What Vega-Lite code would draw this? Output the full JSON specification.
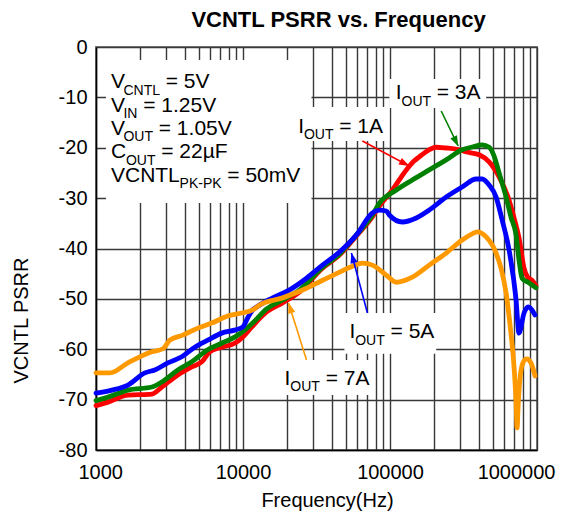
{
  "$schema": "https://vega.github.io/schema/vega-lite/v6.json",
  "width": 441,
  "height": 403,
  "autosize": {"type": "none"},
  "padding": {"left": 96, "top": 47, "right": 28, "bottom": 69},
  "background": "white",
  "title": {"text": "VCNTL PSRR vs. Frequency", "font": "Liberation Sans", "fontSize": 22, "fontWeight": "bold", "color": "black", "anchor": "middle", "frame": "group", "dx": 22, "offset": 5},
  "config": {
    "font": "Liberation Sans",
    "view": {"stroke": "#808080", "strokeWidth": 2}
  },
  "datasets": {
    "curves": [
      {"s":"1A","f":1000,"d":-71.2},{"s":"1A","f":1206,"d":-70.5},{"s":"1A","f":1649,"d":-69.1},{"s":"1A","f":2400,"d":-68.9},{"s":"1A","f":2805,"d":-67.5},{"s":"1A","f":3603,"d":-65.1},{"s":"1A","f":4483,"d":-63.5},{"s":"1A","f":5243,"d":-62.5},{"s":"1A","f":5939,"d":-60.5},{"s":"1A","f":7165,"d":-59.6},{"s":"1A","f":8779,"d":-58.8},{"s":"1A","f":9948,"d":-57.6},{"s":"1A","f":11452,"d":-55.6},{"s":"1A","f":14478,"d":-52.6},{"s":"1A","f":18590,"d":-50.8},{"s":"1A","f":24250,"d":-48.6},{"s":"1A","f":34740,"d":-43.9},{"s":"1A","f":45330,"d":-41.3},{"s":"1A","f":59100,"d":-37.5},{"s":"1A","f":75900,"d":-33.7},{"s":"1A","f":84650,"d":-31.6},{"s":"1A","f":103700,"d":-28.4},{"s":"1A","f":129100,"d":-24.4},{"s":"1A","f":146300,"d":-22.6},{"s":"1A","f":158200,"d":-21.8},{"s":"1A","f":182100,"d":-20.5},{"s":"1A","f":206300,"d":-19.9},{"s":"1A","f":241300,"d":-20.05},{"s":"1A","f":291000,"d":-20.35},{"s":"1A","f":340000,"d":-20.9},{"s":"1A","f":404200,"d":-21.4},{"s":"1A","f":472400,"d":-22.8},{"s":"1A","f":552300,"d":-25.8},{"s":"1A","f":645700,"d":-30.4},{"s":"1A","f":698200,"d":-33.9},{"s":"1A","f":754800,"d":-37.9},{"s":"1A","f":816300,"d":-43.9},{"s":"1A","f":860000,"d":-45.6},{"s":"1A","f":925000,"d":-46.3},{"s":"1A","f":984500,"d":-47.4},
      {"s":"3A","f":1000,"d":-70.2},{"s":"3A","f":1206,"d":-69.5},{"s":"3A","f":1649,"d":-68.1},{"s":"3A","f":2400,"d":-67.5},{"s":"3A","f":2805,"d":-66.5},{"s":"3A","f":3603,"d":-64.1},{"s":"3A","f":4483,"d":-62.5},{"s":"3A","f":5757,"d":-60.1},{"s":"3A","f":7165,"d":-58.8},{"s":"3A","f":8779,"d":-57.6},{"s":"3A","f":10264,"d":-56.2},{"s":"3A","f":11634,"d":-54.8},{"s":"3A","f":14478,"d":-52.0},{"s":"3A","f":18590,"d":-50.2},{"s":"3A","f":24250,"d":-48.2},{"s":"3A","f":34740,"d":-43.7},{"s":"3A","f":45330,"d":-41.1},{"s":"3A","f":59100,"d":-37.3},{"s":"3A","f":75900,"d":-33.35},{"s":"3A","f":84650,"d":-31.0},{"s":"3A","f":110400,"d":-28.4},{"s":"3A","f":141800,"d":-26.4},{"s":"3A","f":184900,"d":-24.4},{"s":"3A","f":241300,"d":-22.4},{"s":"3A","f":309700,"d":-20.4},{"s":"3A","f":362200,"d":-19.85},{"s":"3A","f":423500,"d":-19.45},{"s":"3A","f":472400,"d":-19.9},{"s":"3A","f":510000,"d":-21.6},{"s":"3A","f":552300,"d":-25.0},{"s":"3A","f":616200,"d":-29.8},{"s":"3A","f":666000,"d":-33.8},{"s":"3A","f":720300,"d":-37.3},{"s":"3A","f":754800,"d":-42.3},{"s":"3A","f":791200,"d":-45.9},{"s":"3A","f":880000,"d":-46.8},{"s":"3A","f":984500,"d":-47.8},
      {"s":"5A","f":1000,"d":-68.7},{"s":"5A","f":1284,"d":-68.1},{"s":"5A","f":1649,"d":-67.1},{"s":"5A","f":2150,"d":-64.7},{"s":"5A","f":2515,"d":-64.1},{"s":"5A","f":3082,"d":-62.7},{"s":"5A","f":3835,"d":-61.5},{"s":"5A","f":4699,"d":-59.6},{"s":"5A","f":5757,"d":-58.2},{"s":"5A","f":7165,"d":-56.8},{"s":"5A","f":8779,"d":-56.2},{"s":"5A","f":9948,"d":-55.6},{"s":"5A","f":10757,"d":-53.8},{"s":"5A","f":11634,"d":-52.2},{"s":"5A","f":12382,"d":-51.6},{"s":"5A","f":15904,"d":-49.8},{"s":"5A","f":20740,"d":-48.2},{"s":"5A","f":27050,"d":-45.9},{"s":"5A","f":34740,"d":-43.3},{"s":"5A","f":45330,"d":-40.7},{"s":"5A","f":59100,"d":-37.3},{"s":"5A","f":75900,"d":-32.95},{"s":"5A","f":84650,"d":-32.4},{"s":"5A","f":94450,"d":-32.56},{"s":"5A","f":98970,"d":-33.35},{"s":"5A","f":121300,"d":-34.74},{"s":"5A","f":150900,"d":-33.95},{"s":"5A","f":184900,"d":-32.36},{"s":"5A","f":241300,"d":-29.78},{"s":"5A","f":309700,"d":-27.79},{"s":"5A","f":385500,"d":-26.2},{"s":"5A","f":423500,"d":-26.2},{"s":"5A","f":472400,"d":-27.4},{"s":"5A","f":527000,"d":-29.8},{"s":"5A","f":578700,"d":-34.3},{"s":"5A","f":645700,"d":-40.3},{"s":"5A","f":720300,"d":-50.2},{"s":"5A","f":754800,"d":-56.8},{"s":"5A","f":816300,"d":-52.8},{"s":"5A","f":870000,"d":-51.6},{"s":"5A","f":969400,"d":-53.2},
      {"s":"7A","f":1000,"d":-64.7},{"s":"7A","f":1245,"d":-64.7},{"s":"7A","f":1649,"d":-62.7},{"s":"7A","f":2400,"d":-60.5},{"s":"7A","f":2850,"d":-59.9},{"s":"7A","f":3180,"d":-58.2},{"s":"7A","f":3895,"d":-57.2},{"s":"7A","f":4924,"d":-55.8},{"s":"7A","f":6130,"d":-54.8},{"s":"7A","f":7870,"d":-53.4},{"s":"7A","f":9795,"d":-52.8},{"s":"7A","f":11634,"d":-52.2},{"s":"7A","f":12977,"d":-51.2},{"s":"7A","f":18590,"d":-49.8},{"s":"7A","f":27050,"d":-47.9},{"s":"7A","f":34740,"d":-46.3},{"s":"7A","f":45330,"d":-44.7},{"s":"7A","f":55520,"d":-43.5},{"s":"7A","f":64920,"d":-42.9},{"s":"7A","f":75900,"d":-43.3},{"s":"7A","f":94450,"d":-45.3},{"s":"7A","f":110400,"d":-46.7},{"s":"7A","f":141800,"d":-45.7},{"s":"7A","f":184900,"d":-43.3},{"s":"7A","f":241300,"d":-40.9},{"s":"7A","f":309700,"d":-38.3},{"s":"7A","f":362200,"d":-37.1},{"s":"7A","f":391600,"d":-36.7},{"s":"7A","f":450800,"d":-37.7},{"s":"7A","f":527000,"d":-40.9},{"s":"7A","f":570000,"d":-44.0},{"s":"7A","f":616200,"d":-48.8},{"s":"7A","f":660000,"d":-56.0},{"s":"7A","f":700000,"d":-64.0},{"s":"7A","f":720300,"d":-70.5},{"s":"7A","f":732000,"d":-75.6},{"s":"7A","f":745000,"d":-71.0},{"s":"7A","f":765000,"d":-66.0},{"s":"7A","f":800000,"d":-62.8},{"s":"7A","f":850000,"d":-61.9},{"s":"7A","f":910000,"d":-62.7},{"s":"7A","f":969400,"d":-65.3}
    ],
    "boxes": [
      {"f":1169,"f2":29250,"d":-2.58,"d2":-30.97},
      {"f":98970,"f2":450800,"d":-6.35,"d2":-12.11},
      {"f":21730,"f2":98970,"d":-11.91,"d2":-18.66},
      {"f":48980,"f2":206300,"d":-52.8,"d2":-60.9},
      {"f":18590,"f2":75900,"d":-62.13,"d2":-69.08}
    ],
    "arrows": [
      {"s":"3A","f":223100,"d":-12.7,"f2":291000,"d2":-19.65},
      {"s":"1A","f":64910,"d":-18.66,"f2":135300,"d2":-23.62},
      {"s":"5A","f":70200,"d":-52.8,"f2":54640,"d2":-40.89},
      {"s":"7A","f":27050,"d":-62.13,"f2":20420,"d2":-50.82}
    ],
    "heads": [
      {"s":"3A","f":281000,"d":-18.76},
      {"s":"1A","f":126100,"d":-23.17},
      {"s":"5A","f":55760,"d":-41.85},
      {"s":"7A","f":20900,"d":-51.77}
    ],
    "texts": [
      {"k":"m","t":"V","f":1264,"d":-8.20},
      {"k":"m","t":"= 5V","f":2982,"d":-8.20},
      {"k":"m","t":"V","f":1264,"d":-12.84},
      {"k":"m","t":"= 1.25V","f":2094,"d":-12.84},
      {"k":"m","t":"V","f":1264,"d":-17.47},
      {"k":"m","t":"= 1.05V","f":2673,"d":-17.47},
      {"k":"m","t":"C","f":1264,"d":-22.09},
      {"k":"m","t":"= 22µF","f":2779,"d":-22.09},
      {"k":"m","t":"VCNTL","f":1264,"d":-26.73},
      {"k":"m","t":"= 50mV","f":7820,"d":-26.73},
      {"k":"m","t":"I","f":109500,"d":-10.42},
      {"k":"m","t":"= 3A","f":207600,"d":-10.42},
      {"k":"m","t":"I","f":23720,"d":-16.99},
      {"k":"m","t":"= 1A","f":45170,"d":-16.99},
      {"k":"m","t":"I","f":52970,"d":-57.83},
      {"k":"m","t":"= 5A","f":100900,"d":-57.83},
      {"k":"m","t":"I","f":19180,"d":-67.10},
      {"k":"m","t":"= 7A","f":36510,"d":-67.10},
      {"k":"s","t":"CNTL","f":1537,"d":-9.43},
      {"k":"s","t":"IN","f":1537,"d":-14.09},
      {"k":"s","t":"OUT","f":1537,"d":-18.72},
      {"k":"s","t":"OUT","f":1598,"d":-23.35},
      {"k":"s","t":"PK-PK","f":3705,"d":-27.99},
      {"k":"s","t":"OUT","f":119900,"d":-11.67},
      {"k":"s","t":"OUT","f":25980,"d":-18.24},
      {"k":"s","t":"OUT","f":58000,"d":-59.08},
      {"k":"s","t":"OUT","f":21000,"d":-68.35}
    ]
  },
  "encoding": {
    "x": {
      "field": "f", "type": "quantitative",
      "scale": {"type": "log", "domain": [1000, 1000000], "nice": false},
      "axis": {
        "title": "Frequency(Hz)",
        "values": [1000,2000,3000,4000,5000,6000,7000,8000,9000,10000,20000,30000,40000,50000,60000,70000,80000,90000,100000,200000,300000,400000,500000,600000,700000,800000,900000,1000000],
        "labelExpr": "indexof([1000,10000,100000,1000000], datum.value) >= 0 ? '' + datum.value : ''",
        "labelOverlap": false,
        "labelFlush": true,
        "labelFlushOffset": 18,
        "labelFontSize": 20,
        "labelColor": "black",
        "labelPadding": 12,
        "ticks": false,
        "tickSize": 0,
        "grid": true,
        "gridColor": "#383838",
        "gridWidth": 1.4,
        "domainColor": "black",
        "domainWidth": 1.5,
        "titleFontSize": 20,
        "titleFontWeight": "normal",
        "titleColor": "black",
        "titleX": 231,
        "titleY": 40
      }
    },
    "y": {
      "field": "d", "type": "quantitative",
      "scale": {"domain": [-80, 0], "nice": false},
      "axis": {
        "title": "VCNTL PSRR",
        "values": [-80,-70,-60,-50,-40,-30,-20,-10,0],
        "labelExpr": "'' + datum.value",
        "labelFontSize": 20,
        "labelColor": "black",
        "labelPadding": 9,
        "ticks": false,
        "tickSize": 0,
        "grid": true,
        "gridColor": "#383838",
        "gridWidth": 1.4,
        "domainColor": "black",
        "domainWidth": 1.5,
        "titleFontSize": 20,
        "titleFontWeight": "normal",
        "titleColor": "black",
        "titleX": -65,
        "titleY": 273
      }
    }
  },
  "layer": [
    {
      "data": {"name": "boxes"},
      "mark": {"type": "rect", "fill": "white", "stroke": null},
      "encoding": {"x2": {"field": "f2"}, "y2": {"field": "d2"}}
    },
    {
      "data": {"name": "curves"},
      "mark": {"type": "line", "strokeWidth": 4.8, "strokeJoin": "round", "strokeCap": "round", "interpolate": "monotone"},
      "encoding": {
        "color": {"field": "s", "type": "nominal", "scale": {"domain": ["1A","3A","5A","7A"], "range": ["#ff0000","#008000","#0000ff","#ff9900"]}, "legend": null}
      }
    },
    {
      "data": {"name": "arrows"},
      "mark": {"type": "rule", "strokeWidth": 1.6},
      "encoding": {
        "x2": {"field": "f2"}, "y2": {"field": "d2"},
        "color": {"field": "s", "type": "nominal", "legend": null}
      }
    },
    {
      "data": {"name": "heads"},
      "mark": {"type": "point", "filled": true, "opacity": 1, "shape": "M0,-1L0.7,1L-0.7,1Z", "size": 110},
      "encoding": {
        "color": {"field": "s", "type": "nominal", "legend": null},
        "angle": {"condition": [{"test": "datum.s === '1A'", "value": 117}, {"test": "datum.s === '3A'", "value": 154}, {"test": "datum.s === '5A'", "value": 345}], "value": 342}
      }
    },
    {
      "data": {"name": "texts"},
      "transform": [{"filter": "datum.k === 'm'"}],
      "mark": {"type": "text", "align": "left", "baseline": "alphabetic", "fontSize": 21, "color": "black"},
      "encoding": {"text": {"field": "t"}}
    },
    {
      "data": {"name": "texts"},
      "transform": [{"filter": "datum.k === 's'"}],
      "mark": {"type": "text", "align": "left", "baseline": "alphabetic", "fontSize": 14, "color": "black"},
      "encoding": {"text": {"field": "t"}}
    }
  ]
}
